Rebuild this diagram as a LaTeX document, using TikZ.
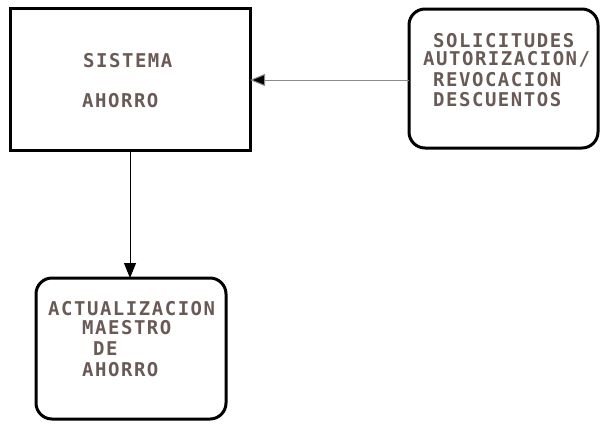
\documentclass[tikz,border=0pt]{standalone}
\usepackage{fontspec}
\setmainfont{DejaVu Sans Mono}[LetterSpace=8,BoldFont={DejaVu Sans Mono Bold}]
\usetikzlibrary{arrows.meta}
\definecolor{txt}{RGB}{105,90,86}
\tikzset{
  boxline/.style={draw=black,line width=3pt},
  roundbox/.style={boxline,rounded corners=16pt},
  lbl/.style={text=txt,font=\fontsize{19}{21}\selectfont\bfseries,inner sep=0pt,anchor=base west},
  conn/.style={line width=1pt,-{Triangle[length=15pt,width=12pt]}}
}
\begin{document}
\begin{tikzpicture}[x=1pt,y=-1pt]
\useasboundingbox (0,0) rectangle (601,423);
% boxes
\draw[boxline] (10,8) rectangle (250,150);
\coordinate (sisN) at (130,150);
\coordinate (sisE) at (250,80);
\draw[roundbox] (409,9) rectangle (598,148);
\coordinate (solW) at (409,80);
\draw[roundbox] (36,278) rectangle (226,419);
\coordinate (actN) at (130,278);
% texts
\node[lbl] (t1) at (83,67) {SISTEMA};
\node[lbl] (t2) at (82,107) {AHORRO};
\node[lbl] (t3) at (433,47) {SOLICITUDES};
\node[lbl] (t4) at (423,65) {AUTORIZACION/};
\node[lbl] (t5) at (433,86) {REVOCACION};
\node[lbl] (t6) at (433,106) {DESCUENTOS};
\node[lbl] (t7) at (48,315) {ACTUALIZACION};
\node[lbl] (t8) at (82,334) {MAESTRO};
\node[lbl] (t9) at (93,355) {DE};
\node[lbl] (t10) at (82,376) {AHORRO};
% connectors
\draw[conn,draw=black!45,-{Triangle[length=15pt,width=12pt,fill=black]}] (solW) -- (sisE);
\draw[conn] (sisN) -- (actN);
\end{tikzpicture}
\end{document}
